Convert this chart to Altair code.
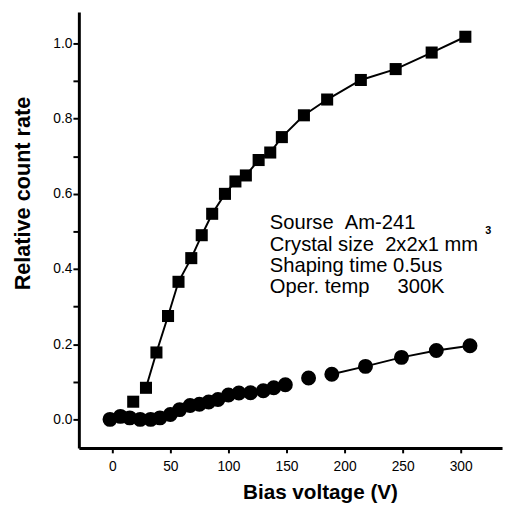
import altair as alt
import pandas as pd

# Square series (upper curve)
sq_x = [18, 29, 38, 48, 57, 68, 77, 86, 97, 106, 115, 126, 136, 146, 165, 185, 214, 244, 275, 304]
sq_y = [0.047, 0.084, 0.178, 0.275, 0.366, 0.429, 0.49, 0.547, 0.60, 0.633, 0.649, 0.69, 0.71,
        0.751, 0.809, 0.851, 0.903, 0.932, 0.976, 1.018]

# Circle series (lower curve)
ci_x = [-2, 7, 15, 24, 33, 41, 50, 58, 67, 75, 83, 91, 100, 109, 119, 130, 139, 149, 169, 189,
        218, 249, 279, 308]
ci_y = [0.0, 0.008, 0.004, 0.0, 0.0, 0.004, 0.013, 0.026, 0.037, 0.04, 0.046, 0.053, 0.065,
        0.07, 0.071, 0.076, 0.084, 0.092, 0.11, 0.12, 0.141, 0.165, 0.183, 0.196]

x_ticks = [0, 25, 50, 75, 100, 125, 150, 175, 200, 225, 250, 275, 300, 325]
y_ticks = [0.0, 0.1, 0.2, 0.3, 0.4, 0.5, 0.6, 0.7, 0.8, 0.9, 1.0]

NB = "\u00a0"
note_lines = ["Sourse" + NB * 2 + "Am-241",
              "Crystal size" + NB * 2 + "2x2x1 mm",
              "Shaping time 0.5us",
              "Oper. temp" + NB * 5 + "300K"]

sq = pd.DataFrame({"x": sq_x, "y": sq_y})
ci = pd.DataFrame({"x": ci_x, "y": ci_y})

FONT = "Liberation Sans"

xs = alt.Scale(domain=[-28.8, 335.6], nice=False, zero=False)
ys = alt.Scale(domain=[-0.076, 1.084], nice=False, zero=False)

xax = alt.Axis(values=x_ticks, labelExpr="datum.value % 50 == 0 ? datum.label : ''",
               title="Bias voltage (V)", titleX=245, titleY=45, titleBaseline="middle",
               titleFontSize=21, titleFont=FONT, titleFontWeight="bold",
               labelFont=FONT, labelFontSize=14, labelPadding=7, tickSize=5, tickWidth=2,
               domainWidth=3, grid=False, labelFlush=False, format="d")
yax = alt.Axis(values=y_ticks,
               labelExpr="round(datum.value*10) % 2 == 0 ? format(datum.value, '.1f') : ''",
               title="Relative count rate", titleX=-57, titleY=184, titleBaseline="middle",
               titleFontSize=22, titleFont=FONT, titleFontWeight="bold",
               labelFont=FONT, labelFontSize=14, labelPadding=1, tickSize=6, tickWidth=2,
               domainWidth=3, grid=False, labelFlush=False)

base_sq = alt.Chart(sq)
base_ci = alt.Chart(ci)

sq_line = base_sq.transform_filter("datum.x > 25").mark_line(color="black", strokeWidth=2).encode(
    x=alt.X("x:Q", scale=xs, axis=xax), y=alt.Y("y:Q", scale=ys, axis=yax))
sq_pts = base_sq.mark_point(shape="square", filled=True, color="black", size=150, opacity=1).encode(
    x=alt.X("x:Q", scale=xs), y=alt.Y("y:Q", scale=ys))

ci_line = base_ci.transform_filter("datum.x < 160 || datum.x > 180").transform_calculate(
    seg="datum.x > 160 ? 1 : 0").mark_line(color="black", strokeWidth=2).encode(
    x=alt.X("x:Q", scale=xs), y=alt.Y("y:Q", scale=ys), detail="seg:N")
ci_pts = base_ci.mark_point(shape="circle", filled=True, color="black", size=230, opacity=1).encode(
    x=alt.X("x:Q", scale=xs), y=alt.Y("y:Q", scale=ys))

note = alt.Chart(pd.DataFrame({"t": [0]})).mark_text(
    text=note_lines, align="left", baseline="alphabetic", fontSize=20.5, font=FONT,
    lineHeight=21.5, color="black").encode(x=alt.value(194), y=alt.value(221))
sup = alt.Chart(pd.DataFrame({"t": [0]})).mark_text(
    text="3", align="left", baseline="alphabetic", fontSize=11, font=FONT, fontWeight="bold",
    color="black").encode(x=alt.value(413), y=alt.value(226))

chart = alt.layer(sq_line, ci_line, sq_pts, ci_pts, note, sup).properties(
    width=430, height=443,
    autosize=alt.AutoSizeParams(type="none"),
    padding={"left": 72, "top": 0, "right": 3, "bottom": 56},
    background="white",
).configure_view(stroke=None).configure_axis(
    domainColor="black", tickColor="black", labelColor="black", titleColor="black")

chart.save("out.html", embed_options={"renderer": "svg", "actions": False})
